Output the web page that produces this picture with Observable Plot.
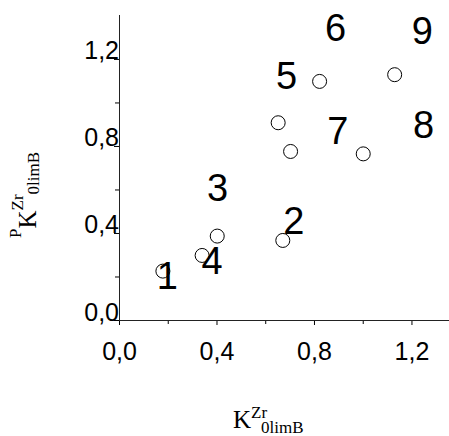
<!DOCTYPE html>
<html><head><meta charset="utf-8">
<script src="https://cdn.jsdelivr.net/npm/d3@7"></script>
<script src="https://cdn.jsdelivr.net/npm/@observablehq/plot@0.6"></script>
<style>body{margin:0;background:#fff} #chart{width:449px;height:436px}</style>
</head><body><div id="chart"></div>
<script>
const pointX = [0.178, 0.339, 0.401, 0.670, 0.651, 0.702, 0.821, 1.000, 1.129];
const pointY = [0.227, 0.299, 0.388, 0.368, 0.909, 0.777, 1.099, 0.766, 1.130];
const labelText = ["1", "2", "3", "4", "5", "6", "7", "8", "9"];
const labelX = [0.196, 0.715, 0.402, 0.380, 0.685, 0.886, 0.896, 1.248, 1.242];
const labelY = [0.202, 0.452, 0.605, 0.268, 1.122, 1.341, 0.866, 0.897, 1.326];
const majorTicks = [0, 0.4, 0.8, 1.2];
const minorTicks = [0.2, 0.6, 1.0];

const fmt = d => d.toFixed(1).replace(".", ",");
const points = pointX.map((x, i) => ({x, y: pointY[i]}));
const labels = labelText.map((t, i) => ({t, x: labelX[i], y: labelY[i]}));

const chart = Plot.plot({
  width: 449, height: 436,
  marginLeft: 119, marginRight: 0, marginTop: 15, marginBottom: 116,
  x: {domain: [0, 1.354]},
  y: {domain: [0, 1.402]},
  style: {fontFamily: "'Liberation Sans', Arial, sans-serif", background: "white", color: "black", overflow: "visible"},
  marks: [
    Plot.axisX(majorTicks, {tickSize: 5, tickPadding: 17, tickFormat: fmt, fontSize: 25, label: null}),
    Plot.axisX(minorTicks, {tickSize: 4, tickFormat: () => "", label: null}),
    Plot.axisY(majorTicks, {tickSize: 5, tickPadding: -4.5, tickFormat: fmt, fontSize: 25, lineAnchor: "bottom", label: null}),
    Plot.axisY(minorTicks, {tickSize: 4, tickFormat: () => "", label: null}),
    Plot.ruleX([0], {stroke: "#222"}),
    Plot.ruleY([0], {stroke: "#222"}),
    Plot.dot(points, {x: "x", y: "y", r: 7, stroke: "black", fill: "white", strokeWidth: 1}),
    Plot.text(labels, {x: "x", y: "y", text: "t", fontSize: 38, fill: "black"})
  ]
});
document.getElementById("chart").append(chart);

const svg = d3.select(chart);
const serif = "'Liberation Serif', 'Times New Roman', serif";
const xt = svg.append("text").attr("x", 233).attr("y", 428).attr("text-anchor", "start").attr("font-family", serif).attr("fill", "black");
xt.append("tspan").attr("font-size", 25).text("K");
xt.append("tspan").attr("font-size", 17).attr("dy", -10).text("Zr");
xt.append("tspan").attr("font-size", 17).attr("dx", -6).attr("dy", 15).text("0limB");

const yt = svg.append("text").attr("transform", "translate(36,238) rotate(-90)").attr("text-anchor", "start").attr("font-family", serif).attr("fill", "black");
yt.append("tspan").attr("font-size", 17).attr("dy", -15).text("P");
yt.append("tspan").attr("font-size", 25).attr("dy", 15).text("K");
yt.append("tspan").attr("font-size", 17).attr("dy", -13).text("Zr");
yt.append("tspan").attr("font-size", 17).attr("dy", 16).text("0limB");
</script>
</body></html>
